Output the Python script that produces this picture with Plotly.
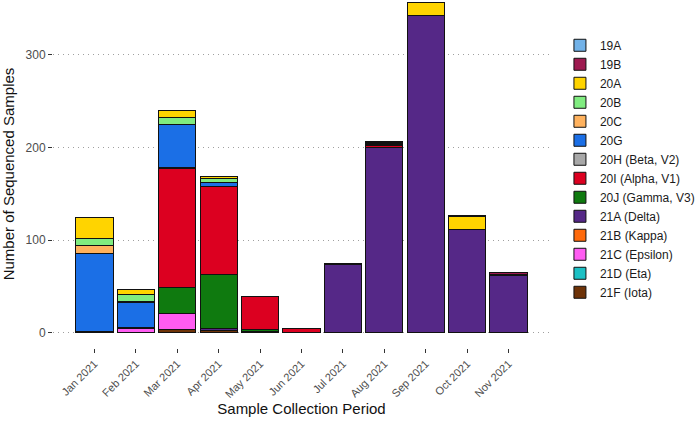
import plotly.graph_objects as go

# ──────────  DATA  ──────────
months = ["Jan 2021", "Feb 2021", "Mar 2021", "Apr 2021", "May 2021", "Jun 2021",
          "Jul 2021", "Aug 2021", "Sep 2021", "Oct 2021", "Nov 2021"]

# counts per clade, one value per month
c19A = [0, 0, 0, 0, 0, 0, 0, 0, 0, 0, 0]
c19B = [0, 0, 0, 0, 0, 0, 0, 1, 1, 1, 2]
c20A = [23, 6, 8, 2, 0, 0, 0, 2, 13, 14, 0]
c20B = [8, 7, 7, 5, 0, 0, 0, 1, 0, 0, 0]
c20C = [8, 1, 0, 0, 0, 0, 0, 0, 0, 0, 0]
c20G = [84, 27, 46, 4, 0, 0, 0, 1, 0, 0, 0]
c20H = [0, 0, 2, 0, 0, 0, 0, 0, 0, 0, 0]
c20I = [0, 1, 128, 95, 35, 4, 1, 2, 1, 0, 1]
c20J = [0, 0, 28, 58, 2, 0, 0, 0, 0, 0, 0]
c21A = [2, 0, 0, 2, 0, 0, 74, 200, 342, 112, 62]
c21B = [0, 0, 0, 0, 0, 0, 0, 0, 0, 0, 0]
c21C = [0, 5, 17, 0, 0, 0, 0, 0, 0, 0, 0]
c21D = [0, 0, 0, 0, 0, 0, 0, 0, 0, 0, 0]
c21F = [0, 0, 4, 3, 2, 1, 0, 0, 0, 0, 0]

# bottom of the stack first
series = [
    ("21F (Iota)",     c21F, "#6e3308"),
    ("21D (Eta)",      c21D, "#1cc0c4"),
    ("21C (Epsilon)",  c21C, "#ff5cf2"),
    ("21B (Kappa)",    c21B, "#ff6a0c"),
    ("21A (Delta)",    c21A, "#552887"),
    ("20J (Gamma, V3)", c20J, "#0f7a0f"),
    ("20I (Alpha, V1)", c20I, "#dc0020"),
    ("20H (Beta, V2)", c20H, "#a8a8a8"),
    ("20G",            c20G, "#1b6fe6"),
    ("20C",            c20C, "#ffb25e"),
    ("20B",            c20B, "#80ec80"),
    ("20A",            c20A, "#ffd400"),
    ("19B",            c19B, "#9e1a50"),
    ("19A",            c19A, "#72b2e8"),
]

fig = go.Figure()
for name, vals, col in series:
    fig.add_trace(go.Bar(
        x=months, y=vals, name=name,
        marker=dict(color=col, line=dict(color="#111111", width=1)),
    ))

fig.update_layout(
    width=700, height=421,
    barmode="stack", bargap=0.1,
    plot_bgcolor="white", paper_bgcolor="white",
    font=dict(family="Liberation Sans, Arial, sans-serif", color="#222222"),
    margin=dict(l=47, r=142, t=0, b=73),
    legend=dict(
        traceorder="reversed", x=1.02, y=0.515, xanchor="left", yanchor="middle",
        font=dict(size=12, color="#1a1a1a"), tracegroupgap=0, itemwidth=30,
    ),
)

fig.update_yaxes(
    range=[-16.2, 359.2], tickvals=[0, 100, 200, 300],
    showgrid=True, gridcolor="#a0a0a0", griddash="1px,4px", gridwidth=1,
    zeroline=False, showline=False,
    ticks="outside", ticklen=4, tickcolor="#333333",
    tickfont=dict(size=12, color="#4d4d4d"),
    title=dict(text="Number of Sequenced Samples", font=dict(size=15, color="#111111")),
)
fig.update_xaxes(
    range=[-1, 11], showgrid=False, showline=False,
    ticks="outside", ticklen=4, tickcolor="#333333", tickangle=-45,
    tickfont=dict(size=11, color="#4d4d4d"),
    title=dict(text="Sample Collection Period", font=dict(size=15, color="#111111"), standoff=4),
)

# page body has a default 8px margin; drop it so the figure sits at the window corner
fig.write_html("out.html", config={"displayModeBar": False},
               post_script="document.body.style.margin='0';")
